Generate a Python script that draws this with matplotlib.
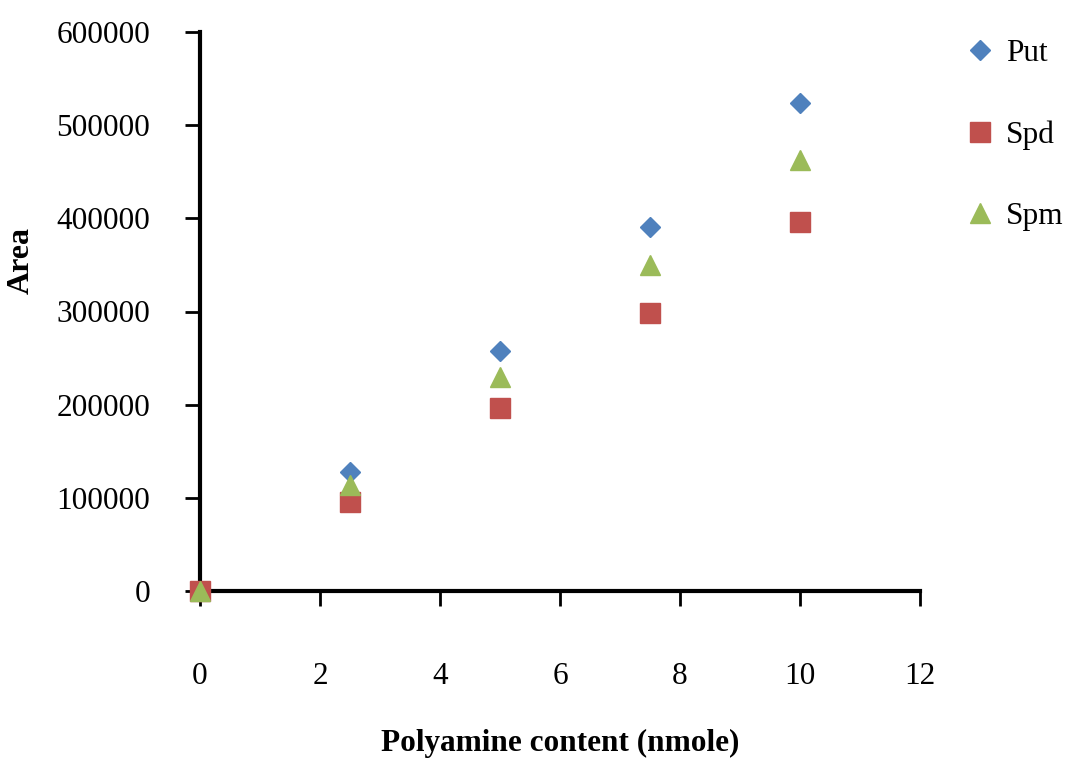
import matplotlib
matplotlib.use("Agg")
import matplotlib.pyplot as plt

# Polyamine calibration data (peak area vs. amount injected)
content = [0, 2.5, 5, 7.5, 10]
put_area = [0, 127500, 257500, 390500, 523500]
spd_area = [0, 95500, 196500, 298500, 396000]
spm_area = [0, 113500, 229500, 349500, 462500]

series_names = ["Put", "Spd", "Spm"]
x_ticks = [0, 2, 4, 6, 8, 10, 12]
y_ticks = [0, 100000, 200000, 300000, 400000, 500000, 600000]

plt.rcParams["font.family"] = ["Liberation Serif", "DejaVu Serif"]

fig = plt.figure(figsize=(10.71, 7.6), dpi=100)
ax = fig.add_axes([200 / 1071, 169 / 760, 720 / 1071, 559 / 760])

ax.plot(content, put_area, linestyle="none", marker="D", ms=10.5,
        color="#4F81BD", label=series_names[0], zorder=3)
ax.plot(content, spd_area, linestyle="none", marker="s", ms=14,
        color="#C0504D", label=series_names[1], zorder=3)
ax.plot(content, spm_area, linestyle="none", marker="^", ms=14,
        color="#9BBB59", label=series_names[2], zorder=4)

ax.set_xlim(0, 12)
ax.set_ylim(0, 600000)
ax.set_xticks(x_ticks)
ax.set_yticks(y_ticks)
ax.set_xticklabels([str(t) for t in x_ticks])
ax.set_yticklabels([str(t) for t in y_ticks])

for side in ("top", "right"):
    ax.spines[side].set_visible(False)
for side in ("left", "bottom"):
    ax.spines[side].set_linewidth(3)
    ax.spines[side].set_color("black")
    ax.spines[side].set_zorder(2)

ax.tick_params(axis="both", direction="out", length=11, width=2,
               labelsize=22.5, color="black")
ax.tick_params(axis="x", pad=40)
ax.tick_params(axis="y", pad=25)

for lab in ax.get_xticklabels() + ax.get_yticklabels():
    lab.set_clip_on(False)
for m in ax.lines:
    m.set_clip_on(False)

ax.set_xlabel("Polyamine content (nmole)", fontsize=22.5, fontweight="bold")
ax.set_ylabel("Area", fontsize=23, fontweight="bold")
ax.xaxis.set_label_coords(0.5, (591 - 729) / 559)
ax.yaxis.set_label_coords((36 - 200) / 720, (591 - 260) / 559)

ax.legend(loc="upper left", bbox_to_anchor=(942 / 1071, 1 - 17 / 760),
          bbox_transform=fig.transFigure, frameon=False, fontsize=22.5,
          numpoints=1, handlelength=1.0, handletextpad=0.35,
          labelspacing=1.67, borderpad=0.2)

fig.savefig("out.png", dpi=100)
